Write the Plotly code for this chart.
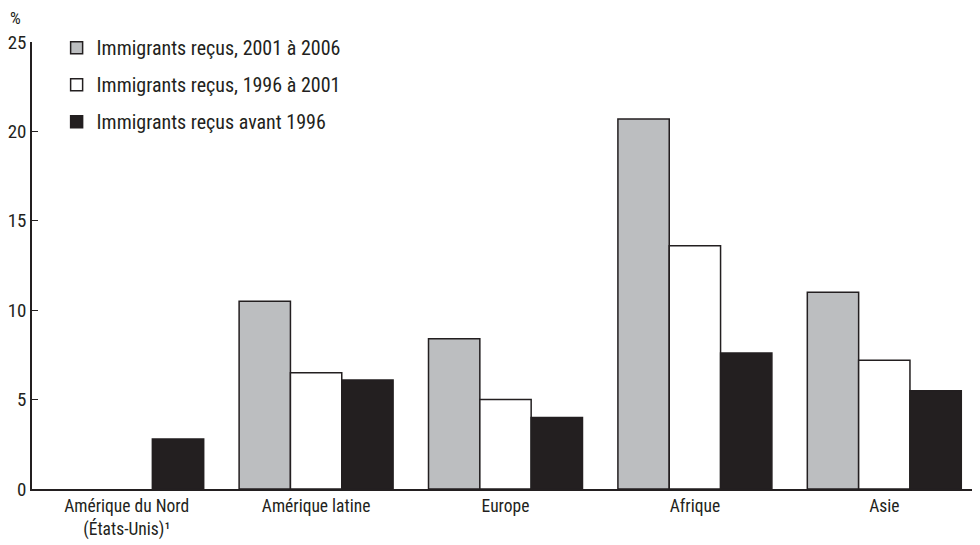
import plotly.graph_objects as go

categories = ["Amérique du Nord<br>(États-Unis)¹", "Amérique latine", "Europe", "Afrique", "Asie"]
series_names = ["Immigrants reçus, 2001 à 2006", "Immigrants reçus, 1996 à 2001", "Immigrants reçus avant 1996"]
recus_2001_2006 = [None, 10.5, 8.4, 20.7, 11.0]
recus_1996_2001 = [None, 6.5, 5.0, 13.6, 7.2]
recus_avant_1996 = [2.8, 6.1, 4.0, 7.6, 5.5]
y_ticks = [0, 5, 10, 15, 20, 25]

INK = "#231f20"
FONT = "Liberation Sans Narrow, Roboto Condensed, Arial Narrow, Roboto, sans-serif"

fills = ["#bcbec0", "#ffffff", INK]
values = [recus_2001_2006, recus_1996_2001, recus_avant_1996]

fig = go.Figure()
for i, (name, vals, fc) in enumerate(zip(series_names, values, fills)):
    fig.add_trace(go.Bar(
        x=categories, y=vals, name=name, legendgroup=f"g{i}",
        marker=dict(color=fc, line=dict(color=INK, width=1.5)),
    ))

fig.update_layout(
    width=972, height=537,
    margin=dict(l=24, r=1, t=34, b=55.5, autoexpand=False),
    paper_bgcolor="white", plot_bgcolor="white",
    barmode="group", bargap=0.187, bargroupgap=0,
    font=dict(family=FONT, size=17, color=INK),
    showlegend=True,
    legend=dict(x=0.026, y=1.031, xanchor="left", yanchor="top",
                bgcolor="rgba(0,0,0,0)", tracegroupgap=8,
                font=dict(family=FONT, size=20, color=INK),
                itemwidth=30),
    xaxis=dict(showline=True, linecolor=INK, linewidth=1.5, ticks="", automargin=False,
               tickfont=dict(family=FONT, size=17.5, color=INK), fixedrange=True),
    yaxis=dict(range=[0, 25], tickvals=y_ticks, showline=True, linecolor=INK,
               linewidth=1.5, ticks="inside", ticklen=6, tickcolor=INK,
               showgrid=False, zeroline=False, automargin=False,
               tickfont=dict(family=FONT, size=19, color=INK)),
    annotations=[dict(text="%", xref="paper", yref="paper", x=-0.017, y=1.054,
                      xanchor="center", yanchor="middle", showarrow=False,
                      font=dict(family=FONT, size=17, color=INK))],
)

fig.write_html("out.html")
